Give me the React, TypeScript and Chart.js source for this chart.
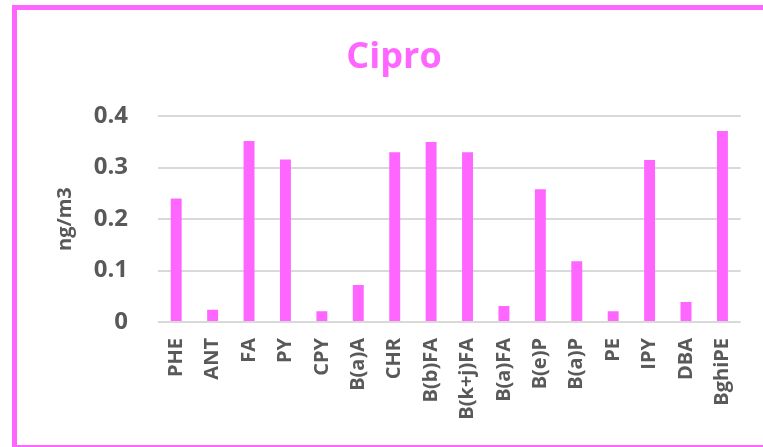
import React, { useEffect, useRef } from "react";
import { Chart, registerables } from "chart.js";

Chart.register(...registerables);

const categories = ["PHE", "ANT", "FA", "PY", "CPY", "B(a)A", "CHR", "B(b)FA", "B(k+j)FA", "B(a)FA", "B(e)P", "B(a)P", "PE", "IPY", "DBA", "BghiPE"];
const values = [0.24, 0.024, 0.352, 0.316, 0.021, 0.072, 0.33, 0.35, 0.33, 0.031, 0.258, 0.118, 0.021, 0.315, 0.039, 0.371];
const yTicks = [0, 0.1, 0.2, 0.3, 0.4];
const chartTitle = "Cipro";
const yTitle = "ng/m3";

const PINK = "#FF66FF";
const TEXT = "#595959";
const GRID = "#D9D9D9";
const FONT = "'Open Sans', 'Liberation Sans', sans-serif";

export default function App() {
  const ref = useRef<HTMLCanvasElement | null>(null);

  useEffect(() => {
    if (!ref.current) return;
    const chart = new Chart(ref.current, {
      type: "bar",
      data: {
        labels: categories,
        datasets: [
          {
            data: values,
            backgroundColor: PINK,
            borderWidth: 0,
            categoryPercentage: 1,
            barPercentage: 0.3,
          },
        ],
      },
      options: {
        responsive: false,
        animation: false,
        layout: { padding: { left: 43, right: 18, top: 0, bottom: 0 } },
        plugins: {
          legend: { display: false },
          tooltip: { enabled: false },
          title: {
            display: true,
            text: chartTitle,
            color: PINK,
            font: { family: FONT, size: 36, weight: "bold", lineHeight: 1.2 },
            padding: { top: 36, bottom: 37 },
          },
        },
        scales: {
          x: {
            grid: { display: false, drawTicks: false },
            border: { display: false },
            ticks: {
              color: TEXT,
              font: { family: FONT, size: 20, weight: "bold" },
              minRotation: 90,
              maxRotation: 90,
              autoSkip: false,
              padding: 16,
            },
            afterFit: (s: any) => {
              s.height = 125;
            },
          },
          y: {
            min: 0,
            max: 0.4,
            afterBuildTicks: (s: any) => {
              s.ticks = yTicks.map((v) => ({ value: v }));
            },
            grid: { color: GRID, lineWidth: 2, drawTicks: false },
            border: { display: false },
            ticks: {
              color: TEXT,
              font: { family: FONT, size: 24, weight: "bold" },
              padding: 30,
              callback: (v: any) => String(Number(v)),
            },
            title: {
              display: true,
              text: yTitle,
              color: TEXT,
              font: { family: FONT, size: 20, weight: "bold" },
              padding: { top: 10, bottom: 0 },
            },
            afterFit: (s: any) => {
              s.width = 115;
            },
          },
        },
      },
    });
    return () => chart.destroy();
  }, []);

  return (
    <div style={{ position: "fixed", left: 0, top: 0, width: 763, height: 447, overflow: "hidden", background: "#fff" }}>
      <canvas ref={ref} width={763} height={447} style={{ position: "absolute", left: 0, top: 0, display: "block" }} />
      <div
        style={{
          position: "absolute",
          left: 12,
          top: 5,
          width: 800,
          height: 445,
          boxSizing: "border-box",
          border: `5px solid ${PINK}`,
          pointerEvents: "none",
        }}
      />
    </div>
  );
}
